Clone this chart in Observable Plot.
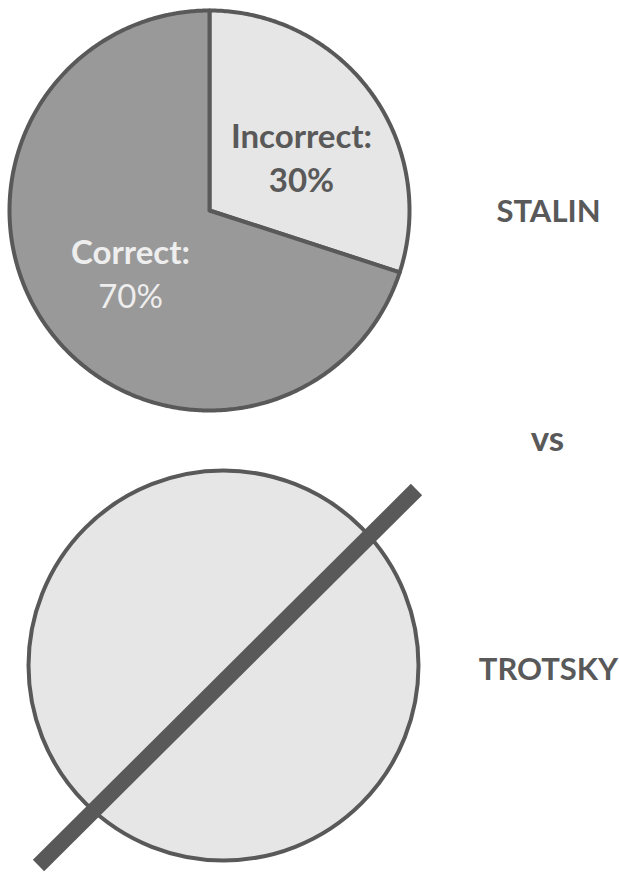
<!DOCTYPE html>
<html>
<head>
<meta charset="utf-8">
<script src="https://cdn.jsdelivr.net/npm/d3@7"></script>
<script src="https://cdn.jsdelivr.net/npm/@observablehq/plot@0.6"></script>
<style>
  html, body { margin: 0; padding: 0; background: #fff; }
  #chart svg { display: block; }
</style>
</head>
<body>
<div id="chart"></div>
<script>
// ---- data ----
const categories = ["Incorrect", "Correct"];
const shares = [30, 70];
const shareLabels = ["30%", "70%"];
const sliceColors = ["#e6e6e6", "#999999"];
const names = ["STALIN", "vs", "TROTSKY"];

// ---- layout ----
const W = 619, H = 872;
const pie = {cx: 209, cy: 210, r: 200};
const circ = {cx: 223, cy: 665, r: 195};
const slash = {x1: 416, y1: 489, x2: 38, y2: 865};
const ink = "#595959";
const light = "#eeeeee";
const font = "Lato, 'Open Sans', sans-serif";

// build slice polygons from the shares
const arcs = d3.pie().sort(null).value(d => d)(shares);
const slicePts = [];
arcs.forEach((a, i) => {
  const n = Math.max(2, Math.ceil((a.endAngle - a.startAngle) / 0.01));
  slicePts.push({k: categories[i], x: pie.cx, y: pie.cy});
  for (let j = 0; j <= n; j++) {
    const t = a.startAngle + (a.endAngle - a.startAngle) * j / n;
    slicePts.push({k: categories[i], x: pie.cx + pie.r * Math.sin(t), y: pie.cy - pie.r * Math.cos(t)});
  }
  slicePts.push({k: categories[i], x: pie.cx, y: pie.cy});
});

const labelPos = {Incorrect: [301, 137], Correct: [130, 253]};
const labels = categories.map((c, i) => ({
  c, name: c + ":", val: shareLabels[i],
  x: labelPos[c][0], y: labelPos[c][1]
}));
const darkLab = labels.filter(d => d.c === "Incorrect");
const lightLab = labels.filter(d => d.c === "Correct");
const namePos = [[548, 212], [547, 439], [548, 670]];
const nameRows = names.map((n, i) => ({n, x: namePos[i][0], y: namePos[i][1]}));
const bigNames = nameRows.filter(d => d.n !== "vs");
const vsRow = nameRows.filter(d => d.n === "vs");

const chart = Plot.plot({
  width: W, height: H,
  margin: 0,
  x: {domain: [0, W], range: [0, W], axis: null},
  y: {domain: [0, H], range: [0, H], axis: null},
  color: {domain: categories, range: sliceColors},
  style: {fontFamily: font, background: "#fff"},
  marks: [
    Plot.line(slicePts, {x: "x", y: "y", z: "k", fill: d => d.k, stroke: ink, strokeWidth: 4, strokeLinejoin: "round"}),
    Plot.dot([circ], {x: "cx", y: "cy", r: circ.r, fill: "#e6e6e6", stroke: ink, strokeWidth: 4}),
    Plot.link([slash], {x1: "x1", y1: "y1", x2: "x2", y2: "y2", stroke: ink, strokeWidth: 16, strokeLinecap: "butt"}),
    Plot.text(darkLab, {x: "x", y: "y", text: "name", fontSize: 33, fontWeight: "bold", fill: ink}),
    Plot.text(darkLab, {x: "x", y: d => d.y + 44, text: "val", fontSize: 33, fontWeight: "bold", fill: ink}),
    Plot.text(lightLab, {x: "x", y: "y", text: "name", fontSize: 33, fontWeight: "bold", fill: light}),
    Plot.text(lightLab, {x: "x", y: d => d.y + 44, text: "val", fontSize: 33, fontWeight: "normal", fill: light}),
    Plot.text(bigNames, {x: "x", y: "y", text: "n", fontSize: 31, fontWeight: "bold", fill: ink}),
    Plot.text(vsRow, {x: "x", y: "y", text: "n", fontSize: 35, fontWeight: "bold", fill: ink})
  ]
});
document.getElementById("chart").appendChild(chart);
</script>
</body>
</html>
